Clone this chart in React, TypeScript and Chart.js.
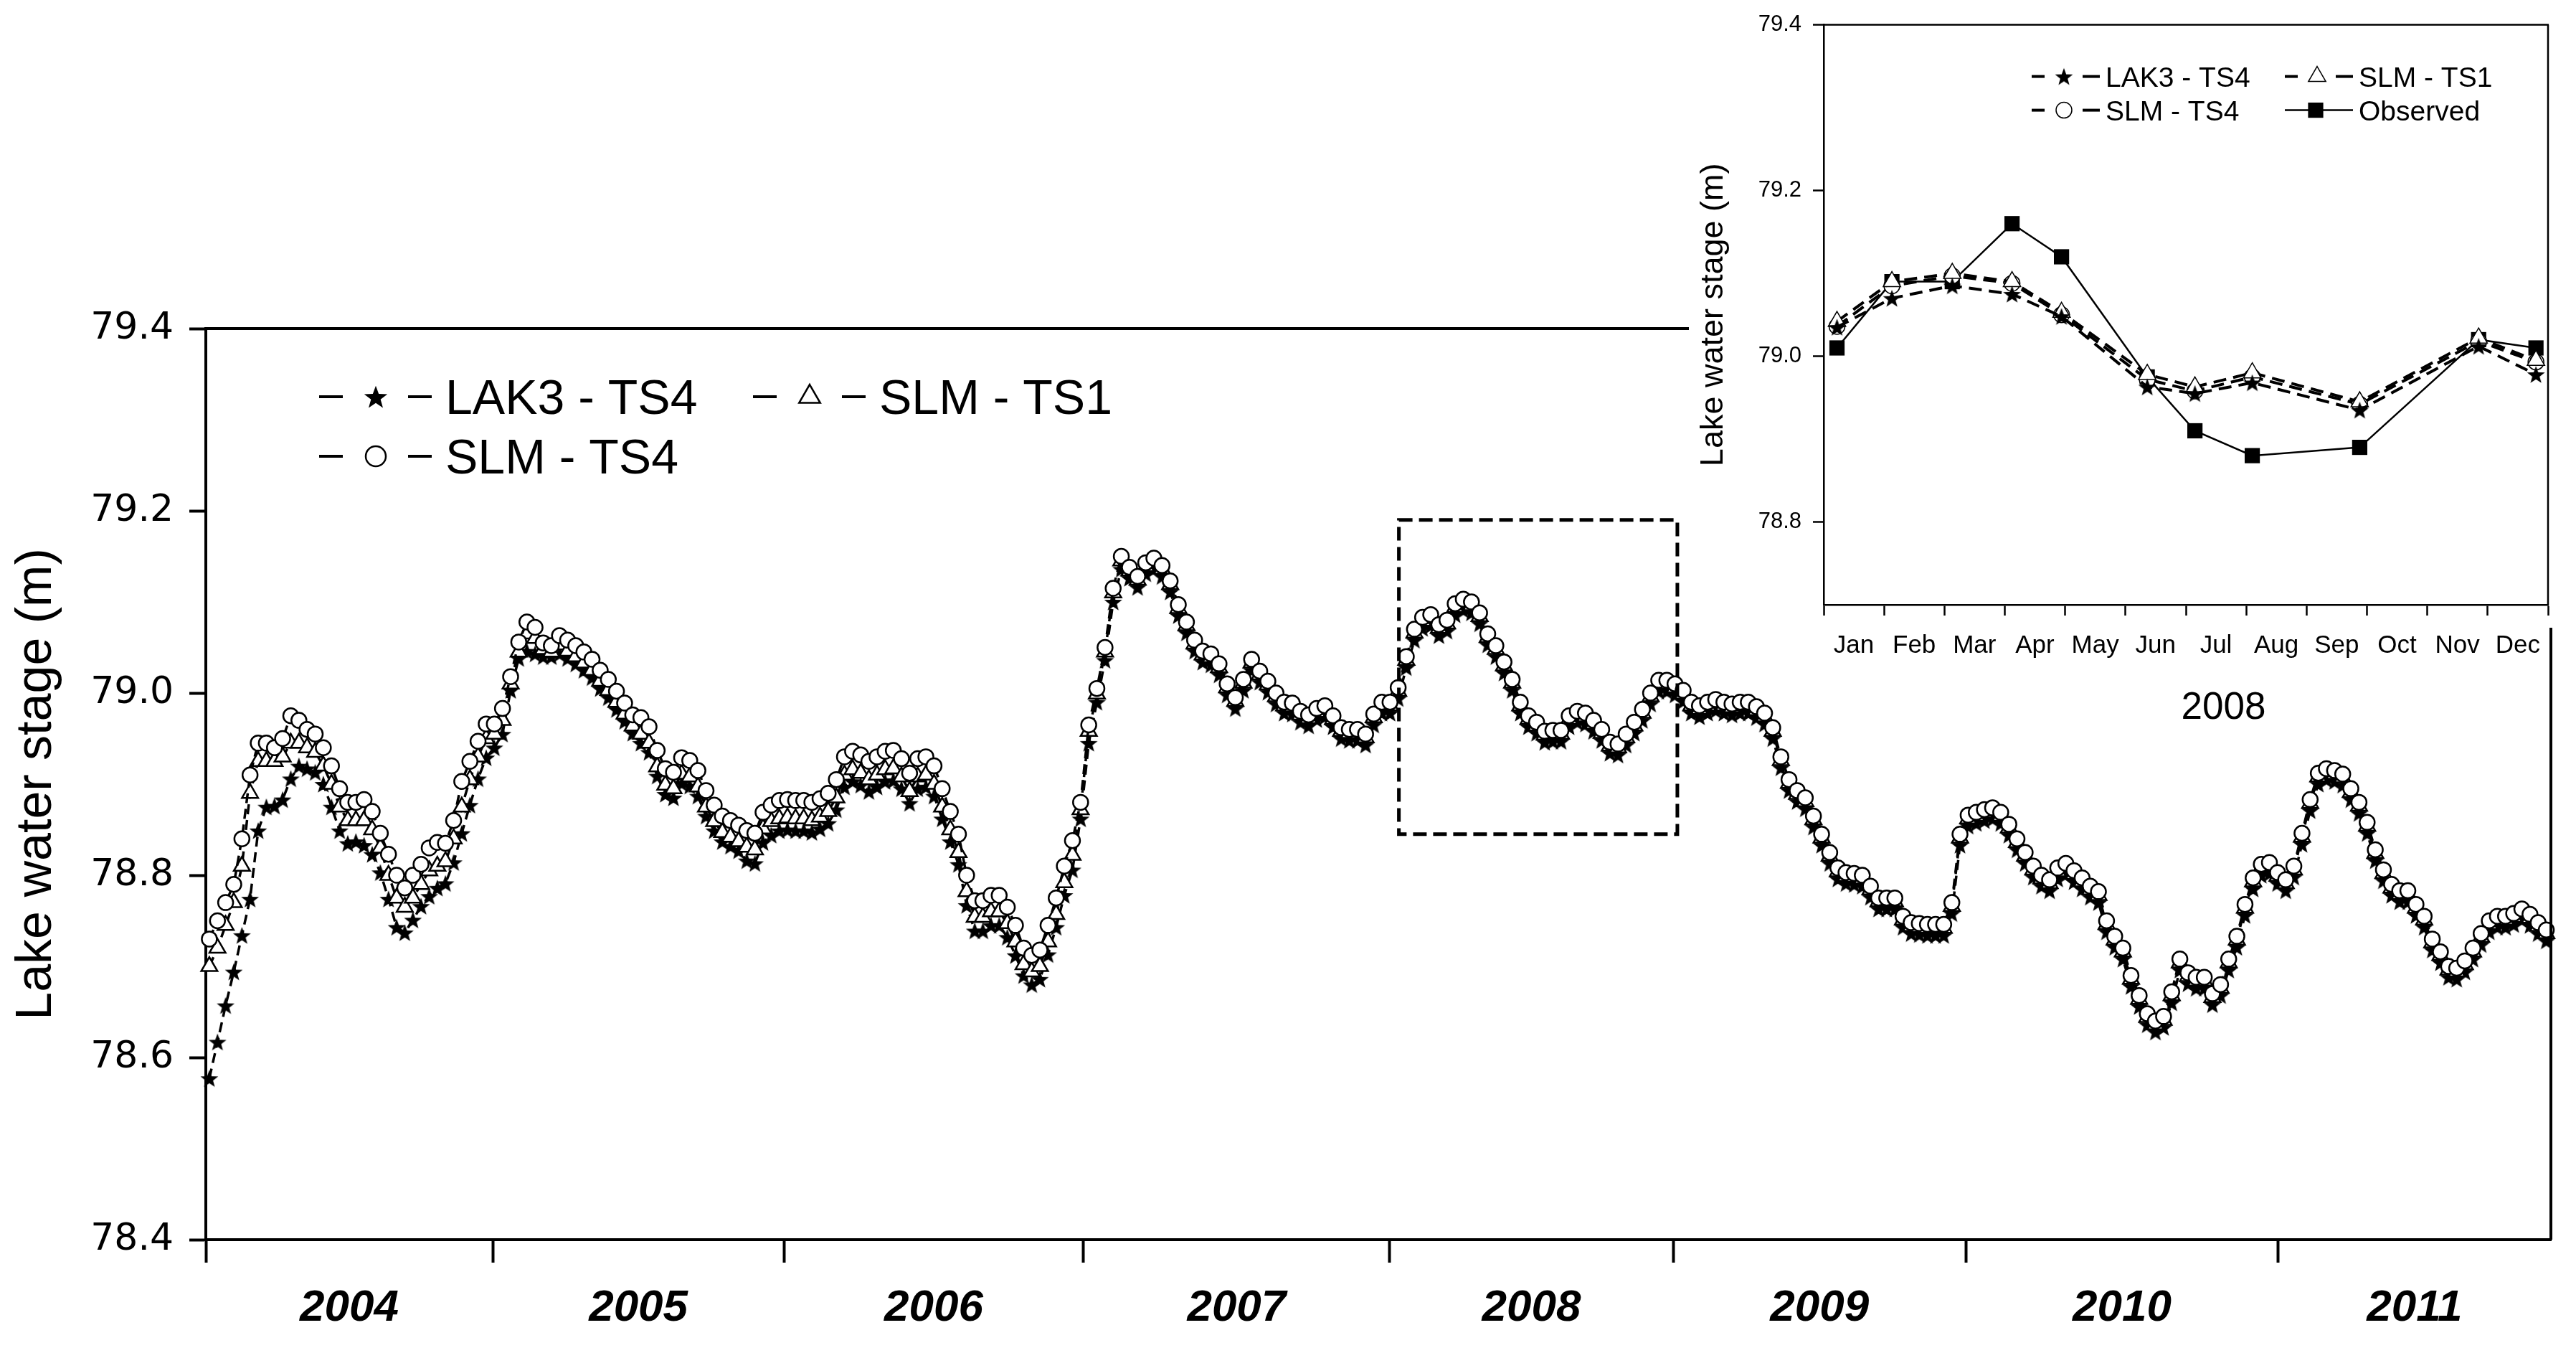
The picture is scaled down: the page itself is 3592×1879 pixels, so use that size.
import React, { useEffect, useRef } from 'react';
import { Chart, registerables } from 'chart.js';

Chart.register(...registerables);

const FONT = "'Liberation Sans', Arial, Helvetica, sans-serif";
const WIDE_FONT = "'DejaVu Sans', 'Liberation Sans', Arial, sans-serif";

// ---------------- main chart data ----------------
const YEAR_LABELS = ['2004', '2005', '2006', '2007', '2008', '2009', '2010', '2011'];
// year boundary tick positions (fractional years)
const YEAR_BOUNDARIES = [2004.0, 2004.979, 2005.972, 2006.994, 2008.039, 2009.006, 2010.004, 2011.07, 2012.0];
const SERIES_START = 2004.012;
const SAMPLES_PER_YEAR = 36;
const MAIN_Y_TICKS = [78.4, 78.6, 78.8, 79.0, 79.2, 79.4];

const LAK3_TS4 = [
  78.577, 78.617, 78.657, 78.694, 78.734, 78.774, 78.849, 78.875, 78.876, 78.883,
  78.906, 78.92, 78.917, 78.913, 78.9, 78.875, 78.849, 78.835, 78.837, 78.833,
  78.823, 78.803, 78.774, 78.743, 78.737, 78.751, 78.766, 78.777, 78.786, 78.791,
  78.814, 78.846, 78.877, 78.906, 78.929, 78.94, 78.955, 79.003, 79.038, 79.046,
  79.043, 79.04, 79.04, 79.043, 79.038, 79.032, 79.025, 79.017, 79.005, 78.995,
  78.982, 78.969, 78.956, 78.945, 78.935, 78.909, 78.889, 78.885, 78.901, 78.898,
  78.887, 78.865, 78.849, 78.837, 78.832, 78.827, 78.816, 78.813, 78.836, 78.844,
  78.849, 78.85, 78.849, 78.849, 78.847, 78.851, 78.857, 78.872, 78.897, 78.903,
  78.899, 78.892, 78.897, 78.903, 78.904, 78.895, 78.879, 78.895, 78.897, 78.887,
  78.862, 78.837, 78.812, 78.767, 78.739, 78.739, 78.745, 78.745, 78.732, 78.712,
  78.69, 78.68, 78.686, 78.713, 78.743, 78.778, 78.806, 78.862, 78.945, 78.99,
  79.036, 79.1, 79.136, 79.126, 79.116, 79.131, 79.136, 79.128, 79.111, 79.085,
  79.066, 79.046, 79.034, 79.031, 79.02, 78.998, 78.983, 79.003, 79.025, 79.012,
  79.001, 78.988, 78.978, 78.977, 78.968, 78.964, 78.971, 78.974, 78.963, 78.95,
  78.948, 78.948, 78.943, 78.965, 78.978, 78.978, 78.994, 79.028, 79.058, 79.071,
  79.074, 79.063, 79.068, 79.086, 79.091, 79.088, 79.076, 79.053, 79.04, 79.022,
  79.003, 78.978, 78.963, 78.956, 78.946, 78.947, 78.947, 78.963, 78.968, 78.966,
  78.958, 78.948, 78.934, 78.932, 78.943, 78.956, 78.97, 78.988, 79.002, 79.002,
  78.998, 78.991, 78.978, 78.974, 78.978, 78.981, 78.978, 78.976, 78.978, 78.978,
  78.973, 78.966, 78.95, 78.918, 78.893, 78.881, 78.873, 78.853, 78.833, 78.813,
  78.796, 78.791, 78.79, 78.788, 78.776, 78.763, 78.763, 78.763, 78.743, 78.736,
  78.735, 78.734, 78.734, 78.734, 78.758, 78.833, 78.854, 78.857, 78.86, 78.862,
  78.857, 78.844, 78.828, 78.813, 78.798, 78.788, 78.783, 78.796, 78.801, 78.793,
  78.785, 78.776, 78.77, 78.738, 78.721, 78.708, 78.678, 78.656, 78.636, 78.628,
  78.633, 78.66, 78.696, 78.681, 78.676, 78.676, 78.658, 78.668, 78.696, 78.721,
  78.756, 78.785, 78.8, 78.802, 78.791, 78.783, 78.798, 78.834, 78.871, 78.9,
  78.905, 78.903, 78.899, 78.883, 78.868, 78.846, 78.816, 78.794, 78.778, 78.771,
  78.771, 78.756, 78.743, 78.718, 78.704, 78.688, 78.686, 78.694, 78.708, 78.724,
  78.738, 78.743, 78.743, 78.746, 78.751, 78.745, 78.736, 78.728,
];

const SLM_TS1 = [
  78.7, 78.72, 78.745, 78.77, 78.81, 78.89, 78.925, 78.925, 78.925, 78.93,
  78.945, 78.945, 78.94, 78.935, 78.92, 78.9, 78.875, 78.86, 78.86, 78.86,
  78.85, 78.83, 78.8, 78.775, 78.765, 78.775, 78.79, 78.805, 78.81, 78.815,
  78.84, 78.875, 78.905, 78.93, 78.95, 78.955, 78.97, 79.01, 79.045, 79.065,
  79.06, 79.048, 79.045, 79.053, 79.046, 79.04, 79.033, 79.025, 79.013, 79.003,
  78.99, 78.977, 78.964, 78.955, 78.945, 78.919, 78.899, 78.895, 78.911, 78.908,
  78.897, 78.875, 78.859, 78.847, 78.842, 78.837, 78.831, 78.828, 78.851, 78.859,
  78.862, 78.863, 78.862, 78.862, 78.86, 78.864, 78.87, 78.885, 78.91, 78.916,
  78.912, 78.905, 78.91, 78.916, 78.917, 78.908, 78.892, 78.908, 78.91, 78.9,
  78.875, 78.85, 78.825, 78.782, 78.754, 78.754, 78.76, 78.76, 78.747, 78.727,
  78.702, 78.694, 78.7, 78.727, 78.757, 78.792, 78.822, 78.872, 78.958, 78.999,
  79.045, 79.11, 79.145, 79.134, 79.124, 79.139, 79.144, 79.136, 79.119, 79.093,
  79.074, 79.054, 79.042, 79.039, 79.028, 79.006, 78.991, 79.011, 79.033, 79.02,
  79.009, 78.996, 78.986, 78.985, 78.976, 78.972, 78.979, 78.982, 78.971, 78.958,
  78.956, 78.956, 78.951, 78.973, 78.986, 78.986, 79.002, 79.036, 79.066, 79.079,
  79.082, 79.071, 79.076, 79.094, 79.099, 79.096, 79.084, 79.061, 79.048, 79.03,
  79.011, 78.986, 78.971, 78.964, 78.954, 78.955, 78.955, 78.971, 78.976, 78.974,
  78.966, 78.956, 78.942, 78.94, 78.951, 78.964, 78.978, 78.996, 79.01, 79.01,
  79.006, 78.999, 78.986, 78.982, 78.986, 78.989, 78.986, 78.984, 78.986, 78.986,
  78.981, 78.974, 78.958, 78.926, 78.901, 78.889, 78.881, 78.861, 78.841, 78.821,
  78.804, 78.799, 78.798, 78.796, 78.784, 78.771, 78.771, 78.771, 78.751, 78.744,
  78.743, 78.742, 78.742, 78.742, 78.766, 78.841, 78.862, 78.865, 78.868, 78.87,
  78.865, 78.852, 78.836, 78.821, 78.806, 78.796, 78.791, 78.804, 78.809, 78.801,
  78.793, 78.784, 78.778, 78.746, 78.729, 78.716, 78.686, 78.664, 78.644, 78.636,
  78.641, 78.668, 78.704, 78.689, 78.684, 78.684, 78.666, 78.676, 78.704, 78.729,
  78.764, 78.793, 78.808, 78.81, 78.799, 78.791, 78.806, 78.842, 78.879, 78.908,
  78.913, 78.911, 78.907, 78.891, 78.876, 78.854, 78.824, 78.802, 78.786, 78.779,
  78.779, 78.764, 78.751, 78.726, 78.712, 78.696, 78.694, 78.702, 78.716, 78.732,
  78.746, 78.751, 78.751, 78.754, 78.759, 78.753, 78.744, 78.736,
];

const SLM_TS4 = [
  78.73, 78.75, 78.77, 78.79, 78.84, 78.91, 78.945, 78.945, 78.94, 78.95,
  78.975, 78.97, 78.96, 78.955, 78.94, 78.92, 78.895, 78.88, 78.88, 78.883,
  78.87, 78.846, 78.823, 78.8, 78.786, 78.8, 78.812, 78.83, 78.836, 78.835,
  78.86, 78.903, 78.925, 78.947, 78.966, 78.966, 78.983, 79.018, 79.056, 79.078,
  79.072, 79.055, 79.052, 79.063, 79.058, 79.052, 79.045, 79.037, 79.025, 79.015,
  79.002, 78.989, 78.976, 78.973, 78.963, 78.937, 78.917, 78.913, 78.929, 78.926,
  78.915, 78.893, 78.877, 78.865, 78.86, 78.855, 78.849, 78.846, 78.869, 78.877,
  78.882, 78.883, 78.882, 78.882, 78.88, 78.884, 78.89, 78.905, 78.93, 78.936,
  78.932, 78.925, 78.93, 78.936, 78.937, 78.928, 78.912, 78.928, 78.93, 78.92,
  78.895, 78.87, 78.845, 78.8, 78.772, 78.772, 78.778, 78.778, 78.765, 78.745,
  78.72, 78.712, 78.718, 78.745, 78.775, 78.81, 78.838, 78.88, 78.965, 79.005,
  79.05, 79.115, 79.15, 79.138, 79.128, 79.143, 79.148, 79.14, 79.123, 79.097,
  79.078, 79.058, 79.046, 79.043, 79.032, 79.01, 78.995, 79.015, 79.037, 79.024,
  79.013, 79.0, 78.99, 78.989, 78.98, 78.976, 78.983, 78.986, 78.975, 78.962,
  78.96, 78.96, 78.955, 78.977, 78.99, 78.99, 79.006, 79.04, 79.07, 79.083,
  79.086, 79.075, 79.08, 79.098, 79.103, 79.1, 79.088, 79.065, 79.052, 79.034,
  79.015, 78.99, 78.975, 78.968, 78.958, 78.959, 78.959, 78.975, 78.98, 78.978,
  78.97, 78.96, 78.946, 78.944, 78.955, 78.968, 78.982, 79.0, 79.014, 79.014,
  79.01, 79.003, 78.99, 78.986, 78.99, 78.993, 78.99, 78.988, 78.99, 78.99,
  78.985, 78.978, 78.962, 78.93, 78.905, 78.893, 78.885, 78.865, 78.845, 78.825,
  78.808, 78.803, 78.802, 78.8, 78.788, 78.775, 78.775, 78.775, 78.755, 78.748,
  78.747, 78.746, 78.746, 78.746, 78.77, 78.845, 78.866, 78.869, 78.872, 78.874,
  78.869, 78.856, 78.84, 78.825, 78.81, 78.8, 78.795, 78.808, 78.813, 78.805,
  78.797, 78.788, 78.782, 78.75, 78.733, 78.72, 78.69, 78.668, 78.648, 78.64,
  78.645, 78.672, 78.708, 78.693, 78.688, 78.688, 78.67, 78.68, 78.708, 78.733,
  78.768, 78.797, 78.812, 78.814, 78.803, 78.795, 78.81, 78.846, 78.883, 78.912,
  78.917, 78.915, 78.911, 78.895, 78.88, 78.858, 78.828, 78.806, 78.79, 78.783,
  78.783, 78.768, 78.755, 78.73, 78.716, 78.7, 78.698, 78.706, 78.72, 78.736,
  78.75, 78.755, 78.755, 78.758, 78.763, 78.757, 78.748, 78.74,
];

// dashed box marking the 2008 window (data units)
const ZOOM_BOX_X = [2008.07, 2009.02];
const ZOOM_BOX_Y = [78.845, 79.19];

// ---------------- inset (2008) data ----------------
const INSET_MONTHS = ['Jan', 'Feb', 'Mar', 'Apr', 'May', 'Jun', 'Jul', 'Aug', 'Sep', 'Oct', 'Nov', 'Dec'];
const INSET_YEAR = '2008';
const INSET_X = [0.22, 1.13, 2.13, 3.12, 3.94, 5.36, 6.15, 7.1, 8.88, 10.85, 11.8];
const INSET_LAK3 = [79.035, 79.07, 79.085, 79.075, 79.048, 78.963, 78.955, 78.968, 78.935, 79.012, 78.978];
const INSET_TS1 = [79.042, 79.09, 79.1, 79.09, 79.053, 78.978, 78.963, 78.98, 78.945, 79.022, 78.995];
const INSET_TS4 = [79.036, 79.085, 79.097, 79.088, 79.05, 78.972, 78.958, 78.975, 78.942, 79.018, 78.993];
const INSET_OBSERVED = [79.01, 79.09, 79.09, 79.16, 79.12, 78.975, 78.91, 78.88, 78.89, 79.02, 79.01];
const INSET_Y_TICKS = [78.8, 79.0, 79.2, 79.4];

// ---------------- helpers ----------------
function makeStarCanvas(outer: number, inner: number): HTMLCanvasElement {
  const size = Math.ceil(outer * 2) + 2;
  const c = document.createElement('canvas');
  c.width = size;
  c.height = size;
  const g = c.getContext('2d') as CanvasRenderingContext2D;
  g.translate(size / 2, size / 2 + outer * 0.1);
  g.beginPath();
  for (let k = 0; k < 10; k++) {
    const r = k % 2 === 0 ? outer : inner;
    const a = -Math.PI / 2 + (k * Math.PI) / 5;
    const px = Math.cos(a) * r;
    const py = Math.sin(a) * r;
    if (k === 0) g.moveTo(px, py);
    else g.lineTo(px, py);
  }
  g.closePath();
  g.fillStyle = '#000';
  g.fill();
  return c;
}

function drawMarker(ctx: CanvasRenderingContext2D, kind: string, x: number, y: number, r: number, star: HTMLCanvasElement, bw: number) {
  ctx.save();
  ctx.setLineDash([]);
  if (kind === 'star') {
    ctx.drawImage(star, x - star.width / 2, y - star.height / 2);
  } else if (kind === 'circle') {
    ctx.beginPath();
    ctx.arc(x, y, r, 0, Math.PI * 2);
    ctx.fillStyle = '#fff';
    ctx.fill();
    ctx.lineWidth = bw;
    ctx.strokeStyle = '#000';
    ctx.stroke();
  } else if (kind === 'triangle') {
    ctx.beginPath();
    let rad = 0;
    for (let k = 0; k < 3; k++) {
      const px = x + Math.sin(rad) * r;
      const py = y - Math.cos(rad) * r;
      if (k === 0) ctx.moveTo(px, py);
      else ctx.lineTo(px, py);
      rad += (2 * Math.PI) / 3;
    }
    ctx.closePath();
    ctx.fillStyle = '#fff';
    ctx.fill();
    ctx.lineWidth = bw;
    ctx.strokeStyle = '#000';
    ctx.stroke();
  } else if (kind === 'rect') {
    const s = r * Math.SQRT1_2;
    ctx.fillStyle = '#000';
    ctx.fillRect(x - s, y - s, 2 * s, 2 * s);
  }
  ctx.restore();
}

function hLine(ctx: CanvasRenderingContext2D, x0: number, x1: number, y: number, w: number) {
  ctx.beginPath();
  ctx.moveTo(x0, y);
  ctx.lineTo(x1, y);
  ctx.lineWidth = w;
  ctx.strokeStyle = '#000';
  ctx.stroke();
}

export default function App() {
  const mainRef = useRef<HTMLCanvasElement | null>(null);
  const insetRef = useRef<HTMLCanvasElement | null>(null);

  useEffect(() => {
    document.body.style.margin = '0';
    const starBig = makeStarCanvas(13, 5.4);
    const starLegend = makeStarCanvas(17, 7);
    const starInset = makeStarCanvas(13, 5.4);

    // ----- main chart -----
    const xTickValues: number[] = [];
    const xTickLabels: string[] = [];
    YEAR_LABELS.forEach((lab, k) => {
      xTickValues.push(YEAR_BOUNDARIES[k]);
      xTickLabels.push('');
      xTickValues.push((YEAR_BOUNDARIES[k] + YEAR_BOUNDARIES[k + 1]) / 2);
      xTickLabels.push(lab);
    });
    const mk = (vals: number[]) => vals.map((y, i) => ({ x: SERIES_START + i / SAMPLES_PER_YEAR, y }));

    const mainFrame = {
      id: 'mainFrame',
      afterDatasetsDraw(chart: any) {
        const { ctx, chartArea: a, scales } = chart;
        ctx.save();
        hLine(ctx, a.left, a.right + 2, a.top, 4);
        ctx.beginPath();
        ctx.moveTo(a.right, a.top);
        ctx.lineTo(a.right, a.bottom);
        ctx.lineWidth = 4;
        ctx.stroke();
        // dashed 2008 box
        const x0 = scales.x.getPixelForValue(ZOOM_BOX_X[0]);
        const x1 = scales.x.getPixelForValue(ZOOM_BOX_X[1]);
        const y0 = scales.y.getPixelForValue(ZOOM_BOX_Y[1]);
        const y1 = scales.y.getPixelForValue(ZOOM_BOX_Y[0]);
        ctx.setLineDash([19, 9]);
        ctx.lineWidth = 5;
        ctx.strokeRect(x0, y0, x1 - x0, y1 - y0);
        ctx.setLineDash([]);
        // legend
        const items = [
          { label: 'LAK3 - TS4', kind: 'star', col: 0, row: 0 },
          { label: 'SLM - TS1', kind: 'triangle', col: 1, row: 0 },
          { label: 'SLM - TS4', kind: 'circle', col: 0, row: 1 },
        ];
        ctx.font = `68px ${FONT}`;
        ctx.fillStyle = '#000';
        ctx.textBaseline = 'alphabetic';
        ctx.textAlign = 'left';
        items.forEach((it) => {
          const lx = a.left + 158 + it.col * 605;
          const ly = a.top + 95 + it.row * 83;
          hLine(ctx, lx, lx + 33, ly, 4);
          hLine(ctx, lx + 124, lx + 157, ly, 4);
          drawMarker(ctx, it.kind, lx + 79, ly, it.kind === 'triangle' ? 17 : 14, starLegend, 2.5);
          ctx.fillStyle = '#000';
          ctx.fillText(it.label, lx + 176, ly + 24);
        });
        ctx.restore();
      },
    };

    const common = { borderColor: '#000', tension: 0, clip: false as any };
    const main = new Chart(mainRef.current as HTMLCanvasElement, {
      type: 'line',
      data: {
        datasets: [
          {
            ...common, label: 'LAK3 - TS4', data: mk(LAK3_TS4), order: 2,
            borderWidth: 3.5, borderDash: [14, 8],
            pointStyle: starBig as any, pointRadius: 11, pointBackgroundColor: '#000', pointBorderColor: '#000', pointBorderWidth: 0,
          },
          {
            ...common, label: 'SLM - TS1', data: mk(SLM_TS1), order: 1,
            borderWidth: 3.5, borderDash: [14, 8],
            pointStyle: 'triangle', pointRadius: 13, pointBackgroundColor: '#fff', pointBorderColor: '#000', pointBorderWidth: 2.5,
          },
          {
            ...common, label: 'SLM - TS4', data: mk(SLM_TS4), order: 0,
            borderWidth: 3.5, borderDash: [14, 8],
            pointStyle: 'circle', pointRadius: 10.5, pointBackgroundColor: '#fff', pointBorderColor: '#000', pointBorderWidth: 2.5,
          },
        ] as any,
      },
      options: {
        responsive: false,
        animation: false,
        events: [],
        layout: { padding: { left: 0, top: 458, right: 35, bottom: 0 } },
        plugins: { legend: { display: false }, tooltip: { enabled: false } },
        scales: {
          x: {
            type: 'linear',
            min: YEAR_BOUNDARIES[0],
            max: YEAR_BOUNDARIES[YEAR_BOUNDARIES.length - 1],
            afterBuildTicks: (s: any) => { s.ticks = xTickValues.map((value) => ({ value })); },
            afterFit: (s: any) => { s.height = 151; },
            ticks: {
              autoSkip: false, maxRotation: 0, minRotation: 0, padding: 27, color: '#000',
              font: { family: FONT, size: 62, weight: 'bold', style: 'italic' },
              callback: (_v: any, idx: number) => xTickLabels[idx] ?? '',
            },
            grid: {
              drawOnChartArea: false, drawTicks: true, tickLength: 32, tickWidth: 4,
              tickColor: (c: any) => (c.index % 2 === 0 ? '#000' : 'rgba(0,0,0,0)'),
            },
            border: { display: true, color: '#000', width: 4 },
          },
          y: {
            type: 'linear',
            min: MAIN_Y_TICKS[0],
            max: MAIN_Y_TICKS[MAIN_Y_TICKS.length - 1],
            afterBuildTicks: (s: any) => { s.ticks = MAIN_Y_TICKS.map((value) => ({ value })); },
            afterFit: (s: any) => { s.width = 287; },
            ticks: {
              padding: 22, color: '#000', font: { family: WIDE_FONT, size: 52 },
              callback: (v: any) => Number(v).toFixed(1),
            },
            grid: { drawOnChartArea: false, drawTicks: true, tickLength: 23, tickWidth: 4, tickColor: '#000' },
            border: { display: true, color: '#000', width: 4 },
            title: {
              display: true, text: 'Lake water stage (m)', color: '#000',
              font: { family: FONT, size: 70 }, padding: { top: 10, bottom: 0 },
            },
          },
        },
      } as any,
      plugins: [mainFrame as any],
    });

    // ----- inset chart -----
    const ind = (vals: number[]) => vals.map((y, i) => ({ x: INSET_X[i], y }));
    const insetPlugin = {
      id: 'insetDecor',
      beforeDraw(chart: any) {
        const { ctx, chartArea: a } = chart;
        ctx.save();
        ctx.fillStyle = '#fff';
        ctx.fillRect(0, 0, chart.width, a.bottom + 32);
        ctx.restore();
      },
      afterDraw(chart: any) {
        const { ctx, chartArea: a } = chart;
        ctx.save();
        hLine(ctx, a.left, a.right + 1, a.top, 2.5);
        ctx.beginPath();
        ctx.moveTo(a.right, a.top);
        ctx.lineTo(a.right, a.bottom);
        ctx.lineWidth = 2.5;
        ctx.strokeStyle = '#000';
        ctx.stroke();
        // legend
        const items = [
          { label: 'LAK3 - TS4', kind: 'star', col: 0, row: 0 },
          { label: 'SLM - TS1', kind: 'triangle', col: 1, row: 0 },
          { label: 'SLM - TS4', kind: 'circle', col: 0, row: 1 },
          { label: 'Observed', kind: 'rect', col: 1, row: 1 },
        ];
        ctx.font = `39px ${FONT}`;
        ctx.textAlign = 'left';
        ctx.textBaseline = 'alphabetic';
        items.forEach((it) => {
          const lx = a.left + 290 + it.col * 353;
          const ly = a.top + 72 + it.row * 47;
          if (it.kind === 'rect') {
            hLine(ctx, lx, lx + 95, ly, 2.5);
            drawMarker(ctx, 'rect', lx + 43, ly, 15, starInset, 1.5);
          } else {
            hLine(ctx, lx, lx + 18, ly, 4);
            hLine(ctx, lx + 71, lx + 95, ly, 4);
            drawMarker(ctx, it.kind, lx + 45, ly, it.kind === 'circle' ? 11 : 14, starInset, 1.5);
          }
          ctx.fillStyle = '#000';
          ctx.fillText(it.label, lx + 103, ly + 14);
        });
        // year caption under the month axis
        ctx.font = `53px ${FONT}`;
        ctx.textAlign = 'center';
        ctx.fillStyle = '#000';
        ctx.fillText(INSET_YEAR, a.left + (a.right - a.left) * 0.552, a.bottom + 159);
        ctx.restore();
      },
    };

    const inset = new Chart(insetRef.current as HTMLCanvasElement, {
      type: 'line',
      data: {
        datasets: [
          {
            ...common, label: 'LAK3 - TS4', data: ind(INSET_LAK3), order: 0,
            borderWidth: 4, borderDash: [18, 10],
            pointStyle: starInset as any, pointRadius: 12, pointBackgroundColor: '#000', pointBorderWidth: 0,
          },
          {
            ...common, label: 'SLM - TS1', data: ind(INSET_TS1), order: 1,
            borderWidth: 4, borderDash: [18, 10],
            pointStyle: 'triangle', pointRadius: 14, pointBackgroundColor: '#fff', pointBorderColor: '#000', pointBorderWidth: 1.5,
          },
          {
            ...common, label: 'SLM - TS4', data: ind(INSET_TS4), order: 2,
            borderWidth: 4, borderDash: [18, 10],
            pointStyle: 'circle', pointRadius: 11, pointBackgroundColor: '#fff', pointBorderColor: '#000', pointBorderWidth: 1.5,
          },
          {
            ...common, label: 'Observed', data: ind(INSET_OBSERVED), order: 3,
            borderWidth: 2.5,
            pointStyle: 'rect', pointRadius: 15, pointBackgroundColor: '#000', pointBorderColor: '#000', pointBorderWidth: 0,
          },
        ] as any,
      },
      options: {
        responsive: false,
        animation: false,
        events: [],
        layout: { padding: { left: 0, top: 25, right: 39, bottom: 0 } },
        plugins: { legend: { display: false }, tooltip: { enabled: false } },
        scales: {
          x: {
            type: 'linear', min: 0, max: INSET_MONTHS.length,
            afterBuildTicks: (s: any) => { s.ticks = INSET_MONTHS.concat(['']).map((_m, k) => ({ value: k })); },
            afterFit: (s: any) => { s.height = 167; },
            ticks: {
              autoSkip: false, maxRotation: 0, minRotation: 0, padding: 21, labelOffset: 42, color: '#000',
              font: { family: FONT, size: 35 },
              callback: (v: any) => INSET_MONTHS[Number(v)] ?? '',
            },
            grid: { drawOnChartArea: false, drawTicks: true, tickLength: 15, tickWidth: 2.5, tickColor: '#000' },
            border: { display: true, color: '#000', width: 2.5 },
          },
          y: {
            type: 'linear', min: 78.7, max: 79.4,
            afterBuildTicks: (s: any) => { s.ticks = INSET_Y_TICKS.map((value) => ({ value })); },
            afterFit: (s: any) => { s.width = 188; },
            ticks: { padding: 16, color: '#000', font: { family: FONT, size: 31 }, callback: (v: any) => Number(v).toFixed(1) },
            grid: { drawOnChartArea: false, drawTicks: true, tickLength: 15, tickWidth: 2.5, tickColor: '#000' },
            border: { display: true, color: '#000', width: 2.5 },
            title: {
              display: true, text: 'Lake water stage (m)', color: '#000',
              font: { family: FONT, size: 45 }, padding: { top: 8, bottom: 0 },
            },
          },
        },
      } as any,
      plugins: [insetPlugin as any],
    });

    return () => {
      main.destroy();
      inset.destroy();
    };
  }, []);

  return (
    <div style={{ position: 'absolute', left: 0, top: 0, width: 3592, height: 1879, background: '#fff', overflow: 'hidden' }}>
      <canvas ref={mainRef} width={3592} height={1879} style={{ position: 'absolute', left: 0, top: 0, display: 'block' }} />
      <canvas ref={insetRef} width={1237} height={1010} style={{ position: 'absolute', left: 2355, top: 0, display: 'block' }} />
    </div>
  );
}
